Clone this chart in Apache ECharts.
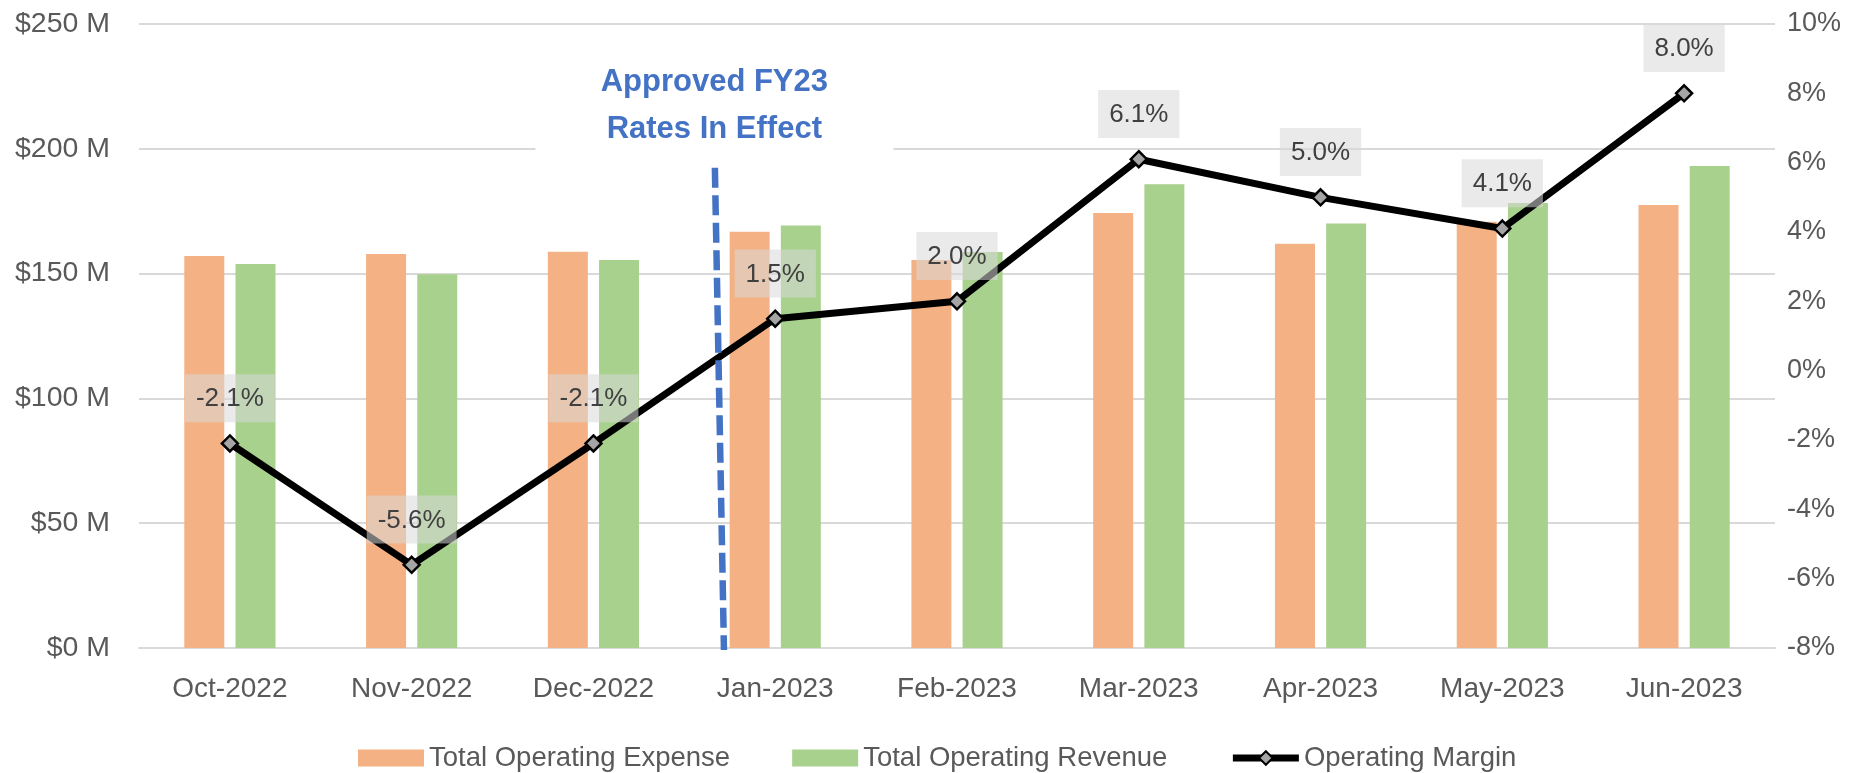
<!DOCTYPE html>
<html><head><meta charset="utf-8">
<script src="https://cdn.jsdelivr.net/npm/echarts@6/dist/echarts.min.js"></script>
<style>html,body{margin:0;padding:0;background:#fff}#c{width:1864px;height:773px}</style>
</head><body><div id="c"></div>
<script>
const categories = ['Oct-2022','Nov-2022','Dec-2022','Jan-2023','Feb-2023','Mar-2023','Apr-2023','May-2023','Jun-2023'];
const expense = [157.1, 157.9, 158.8, 166.8, 155.4, 174.3, 162.0, 170.8, 177.5];
const revenue = [153.8, 149.7, 155.4, 169.3, 158.7, 185.8, 170.1, 178.3, 193.1];
const margin = [-2.1, -5.6, -2.1, 1.5, 2.0, 6.1, 5.0, 4.1, 8.0];
const seriesNames = ['Total Operating Expense', 'Total Operating Revenue', 'Operating Margin'];
const annotationText = 'Approved FY23\nRates In Effect';

const FONT = "'Liberation Sans', Arial, sans-serif";
const chart = echarts.init(document.getElementById('c'), null, {renderer: 'canvas'});
chart.setOption({
  animation: false,
  backgroundColor: '#fff',
  textStyle: {fontFamily: FONT},
  grid: {left: 139, right: 89, top: 24, bottom: 125, containLabel: false},
  legend: {
    left: 353, top: 739,
    itemWidth: 66, itemHeight: 17, itemGap: 62,
    textStyle: {fontSize: 27.5, color: '#595959', fontFamily: FONT},
    data: [
      {name: seriesNames[0], icon: 'rect'},
      {name: seriesNames[1], icon: 'rect'},
      {name: seriesNames[2], lineStyle: {width: 7, color: '#000'}}
    ]
  },
  xAxis: {
    type: 'category', data: categories,
    axisLine: {show: true, lineStyle: {color: '#D9D9D9', width: 2}},
    axisTick: {show: false},
    axisLabel: {fontSize: 28, color: '#595959', margin: 27, fontFamily: FONT}
  },
  yAxis: [
    {type: 'value', min: 0, max: 250, interval: 50,
     axisLine: {show: false}, axisTick: {show: false},
     splitLine: {lineStyle: {color: '#D9D9D9', width: 2}},
     axisLabel: {fontSize: 28.5, color: '#595959', margin: 29, fontFamily: FONT,
                 formatter: v => '$' + v + ' M'}},
    {type: 'value', min: -8, max: 10, interval: 2, position: 'right',
     axisLine: {show: false}, axisTick: {show: false}, splitLine: {show: false},
     axisLabel: {fontSize: 27, color: '#595959', margin: 12, fontFamily: FONT,
                 formatter: v => v + '%'}}
  ],
  series: [
    {name: seriesNames[0], type: 'bar', data: expense, barWidth: 40, barGap: '28%',
     itemStyle: {color: '#F4B183'}},
    {name: seriesNames[1], type: 'bar', data: revenue, barWidth: 40,
     itemStyle: {color: '#A9D18E'}},
    {name: seriesNames[2], type: 'line', yAxisIndex: 1, data: margin, z: 5,
     lineStyle: {color: '#000', width: 7},
     symbol: 'diamond', symbolSize: 16,
     itemStyle: {color: '#A5A5A5', borderColor: '#000', borderWidth: 2.5},
     label: {show: true, position: 'top', distance: 12,
             formatter: p => p.value.toFixed(1) + '%',
             fontSize: 26, color: '#404040', fontFamily: FONT,
             backgroundColor: 'rgba(217,217,217,0.55)', padding: [12, 11, 10, 11]}}
  ]
});

// Annotation (positioned relative to the category axis)
const xDec = chart.convertToPixel({xAxisIndex: 0}, categories[2]);
const xJan = chart.convertToPixel({xAxisIndex: 0}, categories[3]);
const step = xJan - xDec;
const yBase = chart.convertToPixel({yAxisIndex: 0}, 0);
const y200 = chart.convertToPixel({yAxisIndex: 0}, 200);
const xTop = xDec + 0.668 * step, xBot = xDec + 0.718 * step;
const xText = xDec + 0.665 * step;
chart.setOption({
  graphic: [
    {type: 'rect', z: 100, shape: {x: xDec - 58, y: y200 - 105, width: 358, height: 118},
     style: {fill: '#fff'}},
    {type: 'line', z: 101, shape: {x1: xTop, y1: y200 + 19, x2: xBot, y2: yBase + 2},
     style: {stroke: '#4472C4', lineWidth: 6.5, lineDash: [20, 7.5]}},
    {type: 'text', z: 102, x: xText, y: 105.5,
     style: {text: annotationText, fill: '#4472C4', font: 'bold 31px ' + FONT,
             align: 'center', verticalAlign: 'middle', lineHeight: 47}}
  ]
});
</script></body></html>
